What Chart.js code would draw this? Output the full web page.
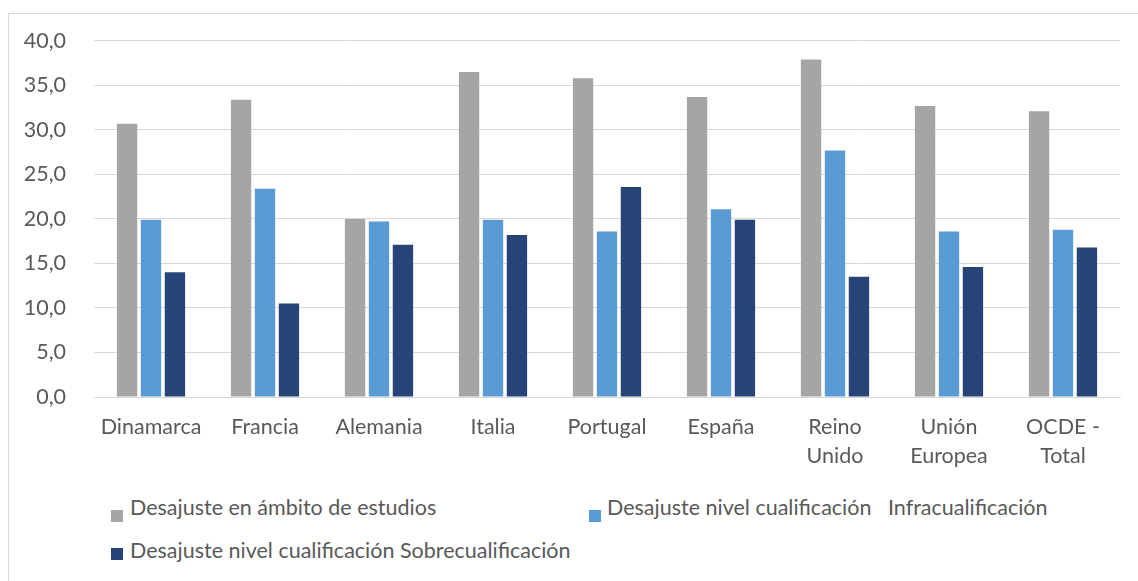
<!DOCTYPE html>
<html>
<head>
<meta charset="utf-8">
<script src="https://cdn.jsdelivr.net/npm/chart.js@4.4.1/dist/chart.umd.min.js"></script>
<style>
  html, body { margin: 0; padding: 0; background: #fff; width: 1138px; height: 581px; overflow: hidden; }
  #frame { position: absolute; left: 8px; top: 13px; width: 1200px; height: 700px; border-top: 1px solid #d9d9d9; border-left: 1px solid #d9d9d9; }
  #wrap { position: absolute; left: 0; top: 0; width: 1138px; height: 480px; }
  .lg { position: absolute; font-family: Lato, "Open Sans", sans-serif; font-size: 21.5px; color: #595959; white-space: pre; line-height: 20px; }
</style>
</head>
<body>
<div id="frame"></div>
<div id="wrap"><canvas id="c" width="1138" height="480"></canvas></div>
<div id="legend"></div>
<script>
const categories = ["Dinamarca", "Francia", "Alemania", "Italia", "Portugal", "España", ["Reino", "Unido"], ["Unión", "Europea"], ["OCDE -", "Total"]];
const seriesNames = ["Desajuste en ámbito de estudios", "Desajuste nivel cualificación   Infracualificación", "Desajuste nivel cualificación Sobrecualificación"];
const ambitoEstudios = [30.7, 33.4, 20.0, 36.5, 35.8, 33.7, 37.9, 32.7, 32.1];
const infracualificacion = [19.9, 23.4, 19.7, 19.9, 18.6, 21.1, 27.7, 18.6, 18.8];
const sobrecualificacion = [14.0, 10.5, 17.1, 18.2, 23.6, 19.9, 13.5, 14.6, 16.8];
const yTicks = [0, 5, 10, 15, 20, 25, 30, 35, 40];
const colors = ["#a5a5a5", "#5b9bd5", "#264478"];

const font = { family: "Lato, 'Open Sans', sans-serif", size: 21.5 };
const seriesValues = [ambitoEstudios, infracualificacion, sobrecualificacion];

const chart = new Chart(document.getElementById('c'), {
  type: 'bar',
  data: {
    labels: categories,
    datasets: seriesValues.map((v, i) => ({
      label: seriesNames[i],
      data: v,
      backgroundColor: colors[i],
      borderWidth: 0,
      categoryPercentage: 0.63,
      barPercentage: 0.85
    }))
  },
  options: {
    responsive: false,
    animation: false,
    layout: { padding: { top: 40, right: 18, left: 0, bottom: 0 } },
    plugins: { legend: { display: false }, tooltip: { enabled: false } },
    scales: {
      x: {
        grid: { display: false, drawTicks: false },
        border: { display: true, color: '#d9d9d9', width: 1 },
        ticks: { color: '#595959', font: { ...font, lineHeight: 1.35 }, padding: 16, maxRotation: 0, autoSkip: false },
        afterFit: s => { s.height = 83; }
      },
      y: {
        min: 0, max: 40,
        afterBuildTicks: s => { s.ticks = yTicks.map(v => ({ value: v })); },
        grid: { color: '#d9d9d9', lineWidth: 1, drawTicks: false },
        border: { display: false },
        ticks: { color: '#595959', font: font, padding: 28,
          callback: v => v.toFixed(1).replace('.', ',') },
        afterFit: s => { s.width = 94; }
      }
    }
  }
});

// HTML legend built from series names and colors
const legendPos = [
  { box: [111, 510], text: [130, 497] },
  { box: [589, 510], text: [607, 497] },
  { box: [111, 548], text: [130, 540] }
];
const lg = document.getElementById('legend');
seriesNames.forEach((name, i) => {
  const b = document.createElement('i');
  b.style.cssText = `position:absolute;left:${legendPos[i].box[0]}px;top:${legendPos[i].box[1]}px;width:12px;height:12px;background:${colors[i]};`;
  lg.appendChild(b);
  const t = document.createElement('div');
  t.className = 'lg';
  t.style.left = legendPos[i].text[0] + 'px';
  t.style.top = legendPos[i].text[1] + 'px';
  t.textContent = name;
  lg.appendChild(t);
});
</script>
</body>
</html>
